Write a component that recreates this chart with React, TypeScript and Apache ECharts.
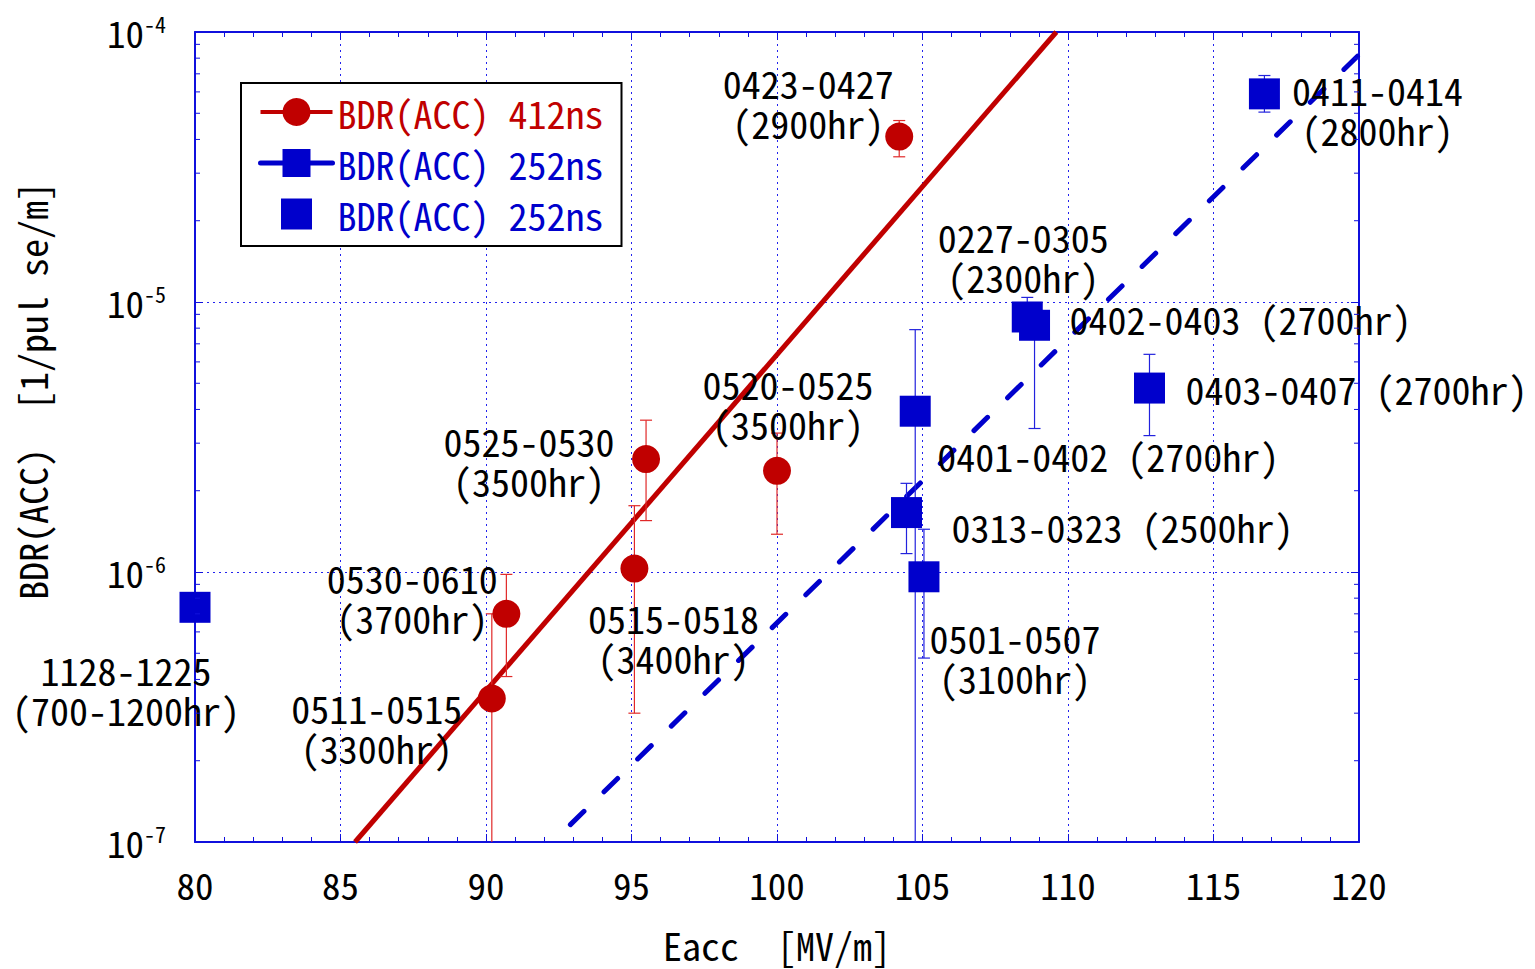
import React, { useEffect, useRef } from 'react';
import * as echarts from 'echarts';

const FONT = "'Noto Sans Mono CJK JP', 'Liberation Mono', monospace";
const RED = '#c00000';
const RED_ERR = '#e02828';
const BLUE = '#0000cc';
const AXIS_BLUE = '#1010dd';

const X_MIN = 80;
const X_MAX = 120;
const Y_MIN = 1e-7;
const Y_MAX = 1e-4;

// Legend names (the two 252 ns entries differ only by the kind of space)
const NAME_412 = 'BDR(ACC) 412ns';
const NAME_252_FIT = 'BDR(ACC) 252ns';
const NAME_252_PT = 'BDR(ACC)\u00a0252ns';

// 412 ns pulse runs
const redPeriods = ['0511-0515', '0530-0610', '0515-0518', '0525-0530', '0520-0525', '0423-0427'];
const redHours = ['(3300hr)', '(3700hr)', '(3400hr)', '(3500hr)', '(3500hr)', '(2900hr)'];
const redEacc = [90.2, 90.7, 95.1, 95.5, 100.0, 104.2];
const redBdr = [3.4e-7, 7.0e-7, 1.03e-6, 2.62e-6, 2.37e-6, 4.1e-5];
const redLow = [5e-8, 4.1e-7, 3.0e-7, 1.55e-6, 1.38e-6, 3.45e-5];
const redHigh = [7.0e-7, 9.8e-7, 1.76e-6, 3.65e-6, 3.27e-6, 4.7e-5];

// 412 ns exponential fit
const redFitEacc = [85.5, 109.6];
const redFitBdr = [1e-7, 1e-4];

// 252 ns pulse runs
const bluePeriods = ['0313-0323', '0401-0402', '0501-0507', '0227-0305', '0402-0403', '0403-0407', '0411-0414'];
const blueHours = ['(2500hr)', '(2700hr)', '(3100hr)', '(2300hr)', '(2700hr)', '(2700hr)', '(2800hr)'];
const blueEacc = [104.45, 104.75, 105.05, 108.6, 108.85, 112.8, 116.75];
const blueBdr = [1.66e-6, 3.94e-6, 9.6e-7, 8.8e-6, 8.2e-6, 4.8e-6, 5.9e-5];
const blueLow = [1.17e-6, 5e-8, 4.8e-7, 7.6e-6, 3.4e-6, 3.2e-6, 5.05e-5];
const blueHigh = [2.13e-6, 7.9e-6, 1.44e-6, 1.04e-5, 9.0e-6, 6.4e-6, 6.9e-5];

// 252 ns early run
const earlyPeriods = ['1128-1225'];
const earlyHours = ['(700-1200hr)'];
const earlyEacc = [80.0];
const earlyBdr = [7.4e-7];

// 252 ns exponential fit (runs past the right edge and is clipped)
const blueFitEacc = [92.9, 121];
const blueFitBdr = [1.16e-7, 1.05e-4];

// Log-axis minor tick mantissas and decades
const minorMantissas = [2, 3, 4, 5, 6, 7, 8, 9];
const minorDecades = [1e-7, 1e-6, 1e-5];

// Label placement: [dx, dy, layout] relative to the marker centre
type Place = [number, number, 'stack' | 'inline'];
const redPlace: Place[] = [
  [-115, 29, 'stack'],
  [-94, -16, 'stack'],
  [39, 69, 'stack'],
  [-117, 1, 'stack'],
  [11, -67, 'stack'],
  [-91, -34, 'stack'],
];
const bluePlace: Place[] = [
  [45, 14, 'inline'],
  [22, 44, 'inline'],
  [91, 81, 'stack'],
  [-4, -60, 'stack'],
  [35, -7, 'inline'],
  [36, 0, 'inline'],
  [113, 16, 'stack'],
];
const earlyPlace: Place[] = [[-69, 82, 'stack']];

const LABEL_SIZE = 38;
const TICK_SIZE = 37;

function pointData(xs: number[], ys: number[], periods: string[], hours: string[], place: Place[]) {
  return xs.map((x, i) => {
    const [dx, dy, layout] = place[i];
    const text = layout === 'stack' ? `${periods[i]}\n${hours[i]}` : `${periods[i]} ${hours[i]}`;
    return {
      value: [x, ys[i]],
      label: {
        show: true,
        position: 'inside',
        offset: [dx, dy],
        align: layout === 'stack' ? 'center' : 'left',
        verticalAlign: 'middle',
        formatter: text,
        color: '#000',
        fontSize: LABEL_SIZE,
        lineHeight: 40,
        fontFamily: FONT,
      },
    };
  });
}

function errorBars(name: string, xs: number[], lows: (number | null)[], highs: (number | null)[], color: string) {
  const data = xs
    .map((x, i) => (lows[i] == null ? null : [x, lows[i], highs[i]]))
    .filter((d) => d !== null);
  return {
    type: 'custom',
    name,
    xAxisIndex: 0,
    yAxisIndex: 0,
    clip: true,
    silent: true,
    z: 3,
    encode: { x: 0, y: [1, 2] },
    renderItem: (_params: any, api: any) => {
      const x = api.value(0);
      const lo = api.coord([x, api.value(1)]);
      const hi = api.coord([x, api.value(2)]);
      const w = 6;
      const style = { stroke: color, lineWidth: 1.2 };
      return {
        type: 'group',
        children: [
          { type: 'line', shape: { x1: lo[0], y1: lo[1], x2: hi[0], y2: hi[1] }, style },
          { type: 'line', shape: { x1: hi[0] - w, y1: hi[1], x2: hi[0] + w, y2: hi[1] }, style },
          { type: 'line', shape: { x1: lo[0] - w, y1: lo[1], x2: lo[0] + w, y2: lo[1] }, style },
        ],
      };
    },
    data,
  };
}

export default function App() {
  const ref = useRef<HTMLDivElement>(null);

  useEffect(() => {
    if (!ref.current) return;
    const chart = echarts.init(ref.current, undefined, { renderer: 'svg' });

    const yMinorTicks = minorDecades.flatMap((d) => minorMantissas.map((m) => m * d));

    const xAxisBase = {
      type: 'value',
      min: X_MIN,
      max: X_MAX,
      interval: 5,
      axisLine: { show: true, onZero: false, lineStyle: { color: AXIS_BLUE, width: 2 } },
      axisTick: { show: true, inside: true, length: 8, lineStyle: { color: AXIS_BLUE, width: 1 } },
      minorTick: { show: true, splitNumber: 5, length: 5, lineStyle: { color: AXIS_BLUE, width: 1 } },
    };
    const yAxisBase = {
      type: 'log',
      logBase: 10,
      min: Y_MIN,
      max: Y_MAX,
      axisLine: { show: true, onZero: false, lineStyle: { color: AXIS_BLUE, width: 2 } },
      axisTick: { show: true, inside: true, length: 8, lineStyle: { color: AXIS_BLUE, width: 1 } },
    };

    chart.setOption({
      animation: false,
      backgroundColor: '#fff',
      textStyle: { fontFamily: FONT },
      grid: { left: 195, right: 176, top: 32, bottom: 123, containLabel: false },
      xAxis: [
        {
          ...xAxisBase,
          position: 'bottom',
          axisLabel: { color: '#000', fontSize: TICK_SIZE, margin: 24, fontFamily: FONT },
          splitLine: { show: true, lineStyle: { color: '#2222ee', width: 1, type: [2, 4] } },
          name: 'Eacc  [MV/m]',
          nameLocation: 'middle',
          nameGap: 88,
          nameTextStyle: { color: '#000', fontSize: LABEL_SIZE, lineHeight: 30, fontFamily: FONT },
        },
        {
          ...xAxisBase,
          position: 'top',
          axisLabel: { show: false },
          splitLine: { show: false },
        },
      ],
      yAxis: [
        {
          ...yAxisBase,
          position: 'left',
          axisLabel: {
            margin: 29,
            formatter: (v: number) => `{b|10}{s|${Math.round(Math.log10(v))}}`,
            rich: {
              b: { fontSize: TICK_SIZE, color: '#000', fontFamily: FONT, lineHeight: 40, verticalAlign: 'middle' },
              s: { fontSize: 22, color: '#000', fontFamily: FONT, lineHeight: 18, verticalAlign: 'top' },
            },
          },
          splitLine: { show: true, lineStyle: { color: '#2222ee', width: 1, type: [2, 4] } },
        },
        {
          ...yAxisBase,
          position: 'right',
          axisLabel: { show: false },
          splitLine: { show: false },
        },
      ],
      legend: {
        orient: 'vertical',
        left: 241,
        top: 83,
        padding: [10, 18, 13, 17],
        itemGap: 13,
        itemWidth: 72,
        itemHeight: 35,
        itemTextGap: 9,
        borderColor: '#000',
        borderWidth: 2,
        backgroundColor: '#fff',
        selectedMode: false,
        textStyle: { fontSize: LABEL_SIZE, lineHeight: 35, fontFamily: FONT },
        data: [
          { name: NAME_412, textStyle: { color: RED }, lineStyle: { type: 'solid', width: 4 } },
          { name: NAME_252_FIT, textStyle: { color: BLUE }, lineStyle: { type: 'solid', width: 5 } },
          {
            name: NAME_252_PT,
            textStyle: { color: BLUE },
            itemStyle: { color: BLUE },
            icon: 'path://M0,0L0,0M2,2h31v31h-31zM35,35L35,35',
          },
        ],
      },
      graphic: [
        {
          type: 'text',
          left: 12,
          top: 182,
          rotation: Math.PI / 2,
          style: {
            text: 'BDR(ACC)  [1/pul se/m]',
            fontSize: LABEL_SIZE,
            fontFamily: FONT,
            fill: '#000',
          },
        },
      ],
      series: [
        {
          type: 'line',
          name: NAME_412,
          data: redFitEacc.map((x, i) => [x, redFitBdr[i]]),
          showSymbol: false,
          symbol: 'circle',
          symbolSize: 28,
          itemStyle: { color: RED },
          lineStyle: { color: RED, width: 5 },
          clip: true,
          silent: true,
          z: 2,
        },
        {
          type: 'line',
          name: NAME_252_FIT,
          data: blueFitEacc.map((x, i) => [x, blueFitBdr[i]]),
          showSymbol: false,
          symbol: 'rect',
          symbolSize: 30,
          itemStyle: { color: BLUE },
          lineStyle: { color: BLUE, width: 5, type: [19, 28], cap: 'round' },
          clip: true,
          silent: true,
          z: 2,
        },
        errorBars('err412', redEacc, redLow, redHigh, RED_ERR),
        errorBars('err252', blueEacc, blueLow, blueHigh, '#2222dd'),
        {
          type: 'scatter',
          name: NAME_412,
          symbol: 'circle',
          symbolSize: 28,
          itemStyle: { color: RED, opacity: 1 },
          clip: false,
          z: 4,
          data: pointData(redEacc, redBdr, redPeriods, redHours, redPlace),
        },
        {
          type: 'scatter',
          name: NAME_252_FIT,
          symbol: 'rect',
          symbolSize: 31,
          itemStyle: { color: BLUE, opacity: 1 },
          clip: false,
          z: 4,
          data: pointData(blueEacc, blueBdr, bluePeriods, blueHours, bluePlace),
        },
        {
          type: 'scatter',
          name: NAME_252_PT,
          symbol: 'rect',
          symbolSize: 31,
          itemStyle: { color: BLUE, opacity: 1 },
          clip: false,
          z: 4,
          data: pointData(earlyEacc, earlyBdr, earlyPeriods, earlyHours, earlyPlace),
        },
        {
          type: 'custom',
          name: 'logMinorTicks',
          silent: true,
          z: 5,
          encode: { y: 0 },
          data: yMinorTicks.map((v) => [v]),
          renderItem: (_params: any, api: any) => {
            const v = api.value(0);
            const l = api.coord([X_MIN, v]);
            const r = api.coord([X_MAX, v]);
            const style = { stroke: AXIS_BLUE, lineWidth: 1 };
            return {
              type: 'group',
              children: [
                { type: 'line', shape: { x1: l[0], y1: l[1], x2: l[0] + 5, y2: l[1] }, style },
                { type: 'line', shape: { x1: r[0], y1: r[1], x2: r[0] - 5, y2: r[1] }, style },
              ],
            };
          },
        },
      ],
    });

    return () => chart.dispose();
  }, []);

  return (
    <div
      ref={ref}
      style={{ position: 'absolute', left: 0, top: 0, width: 1535, height: 969, background: '#fff' }}
    />
  );
}
